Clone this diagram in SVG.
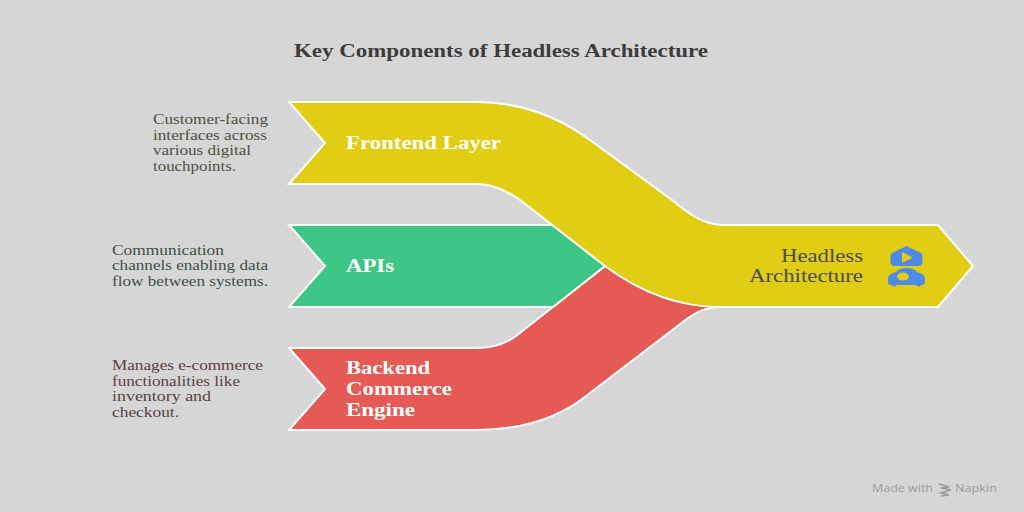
<svg xmlns="http://www.w3.org/2000/svg" width="1024" height="512" viewBox="0 0 1024 512">
<style>
text{font-family:"Liberation Serif","Times New Roman",serif}
.s{stroke:#fff;stroke-width:2;stroke-linejoin:miter}
.d{font-size:14.5px}
.l{font-size:18px;font-weight:700;fill:#fff}
</style>
<rect width="1024" height="512" fill="#d6d6d6"/>
<text x="294" y="56.500" font-size="18" font-weight="700" fill="#3c3c3c" textLength="414" lengthAdjust="spacingAndGlyphs">Key Components of Headless Architecture</text>
<g id="connectors"></g>
<g id="backend">
<path class="s" fill="#e55a54" d="M289,348H476C492,348 505,344 516,336L605,266L720,307C708,307 698,311 688,318L590,393C560,418 520,430 476,430H289L325,389Z"/>
<text class="l"><tspan x="346" y="374" textLength="84" lengthAdjust="spacingAndGlyphs">Backend</tspan><tspan x="346" y="395" textLength="106" lengthAdjust="spacingAndGlyphs">Commerce</tspan><tspan x="346" y="416" textLength="69" lengthAdjust="spacingAndGlyphs">Engine</tspan></text>
<text class="d" fill="#5a3f3e"><tspan x="112" y="370" textLength="151" lengthAdjust="spacingAndGlyphs">Manages e-commerce</tspan><tspan x="112" y="386" textLength="128" lengthAdjust="spacingAndGlyphs">functionalities like</tspan><tspan x="112" y="401" textLength="99" lengthAdjust="spacingAndGlyphs">inventory and</tspan><tspan x="112" y="417" textLength="67" lengthAdjust="spacingAndGlyphs">checkout.</tspan></text>
</g>
<g id="apis">
<path class="s" fill="#3ec686" d="M289,225H553L605,266L553,307H289L325,266Z"/>
<text class="l" x="346" y="272" textLength="48" lengthAdjust="spacingAndGlyphs">APIs</text>
<text class="d" fill="#3f4f47"><tspan x="112" y="255" textLength="112" lengthAdjust="spacingAndGlyphs">Communication</tspan><tspan x="112" y="270" textLength="156" lengthAdjust="spacingAndGlyphs">channels enabling data</tspan><tspan x="112" y="286" textLength="156" lengthAdjust="spacingAndGlyphs">flow between systems.</tspan></text>
</g>
<g id="frontend">
<path class="s" fill="#e0cd14" d="M289,102H476C520,102 556,115 590,140L672,200C690,215 705,225 723,225H938L973,266L938,307H720C680,307 640,292 605,266L520,200C505,190 492,184 476,184H289L325,143Z"/>
<text class="l" x="346" y="149" textLength="155" lengthAdjust="spacingAndGlyphs">Frontend Layer</text>
<text class="d" fill="#4f4f3f"><tspan x="153" y="124" textLength="115" lengthAdjust="spacingAndGlyphs">Customer-facing</tspan><tspan x="153" y="140" textLength="114" lengthAdjust="spacingAndGlyphs">interfaces across</tspan><tspan x="153" y="155" textLength="98" lengthAdjust="spacingAndGlyphs">various digital</tspan><tspan x="153" y="171" textLength="83" lengthAdjust="spacingAndGlyphs">touchpoints.</tspan></text>
</g>
<g id="headless">
<text font-size="18.500" fill="#4a4a4a" text-anchor="end"><tspan x="863" y="261.500" textLength="82" lengthAdjust="spacingAndGlyphs">Headless</tspan><tspan x="863" y="281.500" textLength="114" lengthAdjust="spacingAndGlyphs">Architecture</tspan></text>
<path fill="#4f8ae8" d="M906.500,246L921,253Q922.500,254 922.500,256V262Q922.500,266 918.500,266H894.500Q890.500,266 890.500,262V256Q890.500,254 892,253Z"/>
<path fill="#e0cd14" d="M902,252V263L913,257.500Z"/>
<path fill="#4f8ae8" d="M896,272Q899,268 906.500,268Q914,268 917,272L920,273Q925,274.500 925,279V282Q925,285 922,285H921Q919,288 916,285H897Q894,288 892,285H891Q888,285 888,282V279Q888,274.500 893,273Z"/>
<ellipse cx="903" cy="276.500" rx="6" ry="4" fill="#e0cd14"/>
</g>
<g id="watermark" fill="#9a9a9a">
<text x="872" y="492" font-size="11.500" style="font-family:'Open Sans',sans-serif" textLength="61" lengthAdjust="spacingAndGlyphs">Made with</text>
<path d="M939,484L949,487L941,488L951,490L941,493L949,495L941,496" fill="none" stroke="#9a9a9a" stroke-width="1.600"/>
<text x="955" y="492" font-size="11.500" style="font-family:'Open Sans',sans-serif" textLength="42" lengthAdjust="spacingAndGlyphs">Napkin</text>
</g>
</svg>
